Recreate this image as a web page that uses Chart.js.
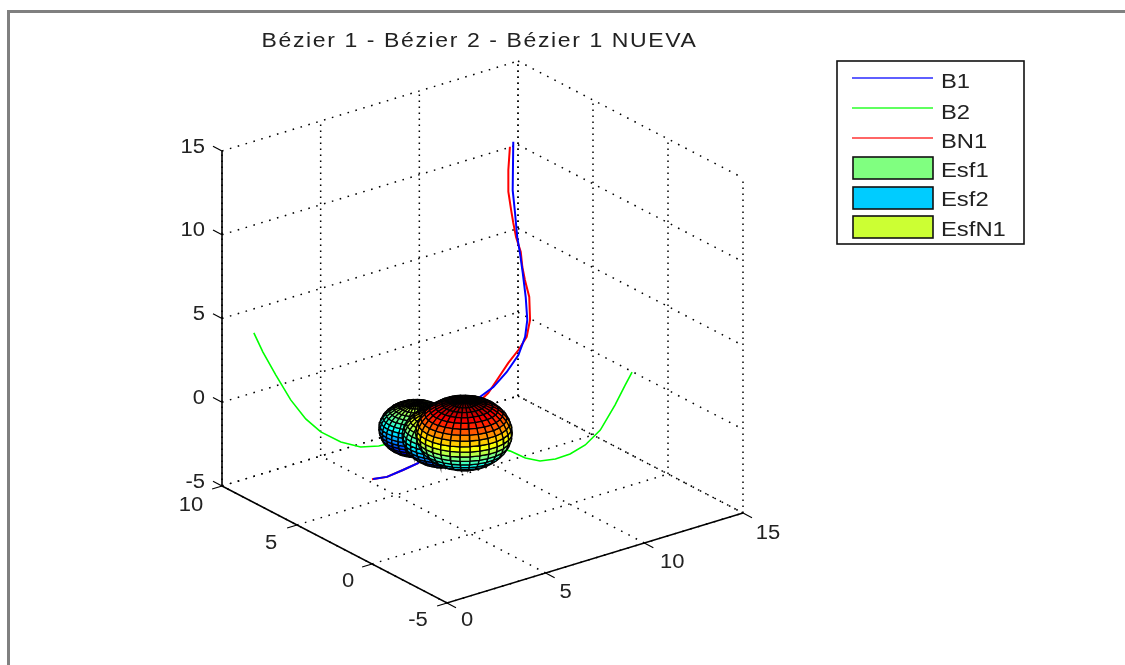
<!DOCTYPE html>
<html>
<head>
<meta charset="utf-8">
<title>Bézier 1 - Bézier 2 - Bézier 1 NUEVA</title>
<script src="https://cdn.jsdelivr.net/npm/chart.js@4/dist/chart.umd.js"></script>
<style>
    html, body { margin: 0; padding: 0; background: #fff; }
    canvas { display: block; filter: blur(0.4px); }
</style>
</head>
<body>
<canvas id="bezierChart" width="1125" height="665"></canvas>
<script>
// Axis ticks of the 3D box
const xTicks = [0, 5, 10, 15];
const yTicks = [-5, 0, 5, 10];
const zTicks = [-5, 0, 5, 10, 15];

// Curves
const b1X = [11.34, 11.31, 11.43, 11.54, 11.68, 11.82, 11.97, 12.05, 11.94, 11.60, 11.01, 10.33, 9.65, 8.13, 6.51, 5.75, 4.94, 4.23];
const b1Y = [5.5, 5.5, 5.5, 5.5, 5.5, 5.5, 5.5, 5.5, 5.5, 5.5, 5.5, 5.5, 5.5, 5.5, 5.5, 5.5, 5.5, 5.5];
const b1Z = [13.59, 10.71, 9.30, 7.82, 6.82, 5.58, 4.09, 2.69, 1.72, 0.76, -0.04, -0.70, -1.05, -2.47, -3.87, -4.01, -4.13, -4.00];

const b2X = [1.50, 1.77, 2.16, 2.60, 3.05, 3.50, 4.10, 4.69, 5.23, 7.23, 9.16, 9.61, 10.05, 10.51, 10.95, 11.40, 11.85, 12.29, 12.60, 12.80];
const b2Y = [9.85, 9.60, 9.25, 8.84, 8.43, 8.02, 7.47, 6.93, 6.43, 4.60, 2.83, 2.42, 2.02, 1.60, 1.20, 0.78, 0.37, -0.03, -0.31, -0.50];
const b2Z = [3.67, 2.55, 1.20, -0.25, -1.36, -2.10, -2.66, -2.92, -2.82, -1.73, -2.86, -3.24, -3.39, -3.24, -2.91, -2.34, -1.42, 0.10, 1.32, 2.11];

const bn1X = [11.17, 11.09, 11.09, 11.23, 11.34, 11.48, 11.72, 11.80, 11.93, 12.15, 12.19, 12.02, 11.60, 11.09, 10.58, 10.07, 8.13, 6.51, 5.75, 4.94, 4.18];
const bn1Y = [5.5, 5.5, 5.5, 5.5, 5.5, 5.5, 5.5, 5.5, 5.5, 5.5, 5.5, 5.5, 5.5, 5.5, 5.5, 5.5, 5.5, 5.5, 5.5, 5.5, 5.5];
const bn1Z = [13.35, 11.99, 10.70, 9.56, 8.74, 7.85, 6.87, 5.94, 5.12, 4.03, 2.64, 1.69, 1.06, 0.47, -0.25, -0.96, -2.47, -3.87, -4.01, -4.13, -4.00];

// Spheres: centre and radius
const sphereX = [6.41, 6.26, 5.99];
const sphereY = [5.5, 3.5, 1.75];
const sphereZ = [-1.77, -1.23, -0.14];
const sphereR = [1.5, 1.65, 1.95];

// Labels
const titleText = 'Bézier 1 - Bézier 2 - Bézier 1 NUEVA';
const legendLabels = ['B1', 'B2', 'BN1', 'Esf1', 'Esf2', 'EsfN1'];
const legendColors = ['#2a2aff', '#2aff2a', '#ff3333', '#80ff80', '#00ccff', '#ccff33'];

// Projection of the box onto the page
function projX(x, y) {
    return 447 + x / 15 * 296 - (y + 5) / 15 * 225;
}
function projY(x, y, z) {
    return 603 - x / 15 * 90 - (y + 5) / 15 * 117 - (z + 5) / 20 * 335;
}
function pt(x, y, z) {
    return { x: projX(x, y), y: projY(x, y, z) };
}

function lineSet(points, color, width, dash) {
    return {
        data: points,
        showLine: true,
        fill: false,
        borderColor: color,
        borderWidth: width,
        borderDash: dash || [],
        pointRadius: 0,
        tension: 0
    };
}

// Matlab jet colormap
function jet(t) {
    t = Math.max(0, Math.min(1, t));
    const r = Math.max(0, Math.min(1, Math.min(4 * t - 1.5, -4 * t + 4.5)));
    const g = Math.max(0, Math.min(1, Math.min(4 * t - 0.5, -4 * t + 3.5)));
    const b = Math.max(0, Math.min(1, Math.min(4 * t + 0.5, -4 * t + 2.5)));
    return `rgb(${Math.round(r * 255)}, ${Math.round(g * 255)}, ${Math.round(b * 255)})`;
}

// Mesh faces of all spheres, back to front
function sphereFaces() {
    const nLat = 20;
    const nLon = 30;
    const view = [-251, -330, 244];
    const dot = (p) => p[0] * view[0] + p[1] * view[1] + p[2] * view[2];
    const zMin = Math.min(...sphereZ.map((z, i) => z - sphereR[i]));
    const zMax = Math.max(...sphereZ.map((z, i) => z + sphereR[i]));
    const faces = [];

    sphereX.forEach((cx, s) => {
        const unit = (i, j) => {
            const lat = -Math.PI / 2 + Math.PI * i / nLat;
            const lon = -Math.PI + 2 * Math.PI * j / nLon;
            return [Math.cos(lat) * Math.cos(lon), Math.cos(lat) * Math.sin(lon), Math.sin(lat)];
        };
        for (let i = 0; i < nLat; i++) {
            for (let j = 0; j < nLon; j++) {
                const corners = [unit(i, j), unit(i, j + 1), unit(i + 1, j + 1), unit(i + 1, j)];
                const mid = [0, 1, 2].map(k => corners.reduce((sum, c) => sum + c[k], 0) / 4);
                if (dot(mid) <= 0) continue;
                const world = corners.map(c => [cx + sphereR[s] * c[0], sphereY[s] + sphereR[s] * c[1], sphereZ[s] + sphereR[s] * c[2]]);
                const centre = [cx + sphereR[s] * mid[0], sphereY[s] + sphereR[s] * mid[1], sphereZ[s] + sphereR[s] * mid[2]];
                const points = world.map(w => pt(w[0], w[1], w[2]));
                points.push(points[0]);
                faces.push({
                    depth: dot(centre),
                    color: jet((world[0][2] - zMin) / (zMax - zMin)),
                    points: points
                });
            }
        }
    });

    faces.sort((a, b) => a.depth - b.depth);
    return faces.map(f => ({
        data: f.points,
        showLine: true,
        fill: 'shape',
        backgroundColor: f.color,
        borderColor: '#000',
        borderWidth: 1.3,
        pointRadius: 0,
        tension: 0
    }));
}

// Everything listed back to front
const layers = [];
const dotted = [1.6, 6.6];
const dottedUp = [1.6, 4.4];

xTicks.forEach(x => {
    layers.push(lineSet([pt(x, -5, -5), pt(x, 10, -5)], '#000', 1.5, dotted));
    layers.push(lineSet([pt(x, 10, -5), pt(x, 10, 15)], '#000', 1.5, dottedUp));
});
yTicks.forEach(y => {
    layers.push(lineSet([pt(0, y, -5), pt(15, y, -5)], '#000', 1.5, dotted));
    layers.push(lineSet([pt(15, y, -5), pt(15, y, 15)], '#000', 1.5, dottedUp));
});
zTicks.forEach(z => {
    layers.push(lineSet([pt(0, 10, z), pt(15, 10, z)], '#000', 1.5, dotted));
    layers.push(lineSet([pt(15, 10, z), pt(15, -5, z)], '#000', 1.5, dotted));
});

// Solid axes and tick marks
layers.push(lineSet([pt(0, 10, 15), pt(0, 10, -5), pt(0, -5, -5), pt(15, -5, -5)], '#000', 1.6));
xTicks.forEach(x => layers.push(lineSet([pt(x, -5, -5), pt(x, -5.6, -5)], '#000', 1.2)));
yTicks.forEach(y => layers.push(lineSet([pt(0, y, -5), pt(-0.5, y, -5)], '#000', 1.2)));
zTicks.forEach(z => layers.push(lineSet([pt(0, 10, z), pt(0, 10.6, z)], '#000', 1.2)));

// Curves, then the spheres cover them
layers.push(lineSet(b2X.map((x, i) => pt(x, b2Y[i], b2Z[i])), '#00ff00', 1.6));
layers.push(lineSet(bn1X.map((x, i) => pt(x, bn1Y[i], bn1Z[i])), '#ff0000', 2));
layers.push(lineSet(b1X.map((x, i) => pt(x, b1Y[i], b1Z[i])), '#0000ff', 2));
sphereFaces().forEach(face => layers.push(face));

// Chart.js paints the first dataset on top
layers.reverse();

function drawText(ctx, text, cx, cy, size, stretch, align, spacing) {
    ctx.save();
    ctx.translate(cx, cy);
    ctx.scale(stretch, 1);
    ctx.font = `${size}px "Liberation Sans", Arial, sans-serif`;
    ctx.letterSpacing = spacing || '0px';
    ctx.fillStyle = '#222';
    ctx.textAlign = align || 'center';
    ctx.textBaseline = 'middle';
    ctx.fillText(text, 0, 0);
    ctx.restore();
}

// Frame, title, tick labels and legend box
const decorPlugin = {
    id: 'decor',
    beforeDraw(chart) {
        const ctx = chart.ctx;
        ctx.save();
        ctx.fillStyle = '#808080';
        ctx.fillRect(7, 10, 1118, 3);
        ctx.fillRect(7, 10, 3, 655);
        ctx.restore();
    },
    afterDraw(chart) {
        const ctx = chart.ctx;
        drawText(ctx, titleText, 479.5, 41, 20, 1.15, 'center', '1.4px');

        const xLabelShift = [[20, 17], [20, 19], [28, 19], [25, 20]];
        xTicks.forEach((x, i) => {
            const p = pt(x, -5, -5);
            drawText(ctx, String(x), p.x + xLabelShift[i][0], p.y + xLabelShift[i][1], 20, 1.1);
        });
        const yLabelShift = [[-29, 17], [-24, 17], [-26, 18], [-31, 19]];
        yTicks.forEach((y, i) => {
            const p = pt(0, y, -5);
            drawText(ctx, String(y), p.x + yLabelShift[i][0], p.y + yLabelShift[i][1], 20, 1.1);
        });
        zTicks.forEach(z => {
            const p = pt(0, 10, z);
            drawText(ctx, String(z), p.x - 17, p.y - 4, 20, 1.1, 'right');
        });

        // Legend
        ctx.save();
        ctx.fillStyle = '#fff';
        ctx.fillRect(837, 61, 187, 183);
        ctx.strokeStyle = '#111';
        ctx.lineWidth = 1.6;
        ctx.strokeRect(837, 61, 187, 183);
        const lineRows = [78, 108, 138];
        lineRows.forEach((y, i) => {
            ctx.strokeStyle = legendColors[i];
            ctx.lineWidth = 1.6;
            ctx.beginPath();
            ctx.moveTo(852, y);
            ctx.lineTo(933, y);
            ctx.stroke();
        });
        const boxRows = [157, 187, 216];
        boxRows.forEach((y, i) => {
            ctx.fillStyle = legendColors[i + 3];
            ctx.strokeStyle = '#111';
            ctx.lineWidth = 1.6;
            ctx.fillRect(853, y, 80, 22);
            ctx.strokeRect(853, y, 80, 22);
        });
        ctx.restore();
        const textRows = [82, 113, 142, 171, 200, 230];
        legendLabels.forEach((label, i) => {
            drawText(ctx, label, 941, textRows[i], 20, 1.19, 'left');
        });
    }
};

const ctx = document.getElementById('bezierChart').getContext('2d');
new Chart(ctx, {
    type: 'scatter',
    data: { datasets: layers },
    options: {
        responsive: false,
        animation: false,
        events: [],
        layout: { padding: 0 },
        plugins: {
            legend: { display: false },
            tooltip: { enabled: false }
        },
        scales: {
            x: { type: 'linear', display: false, min: 0, max: 1125 },
            y: { type: 'linear', display: false, min: 0, max: 665, reverse: true }
        }
    },
    plugins: [decorPlugin]
});
</script>
</body>
</html>
